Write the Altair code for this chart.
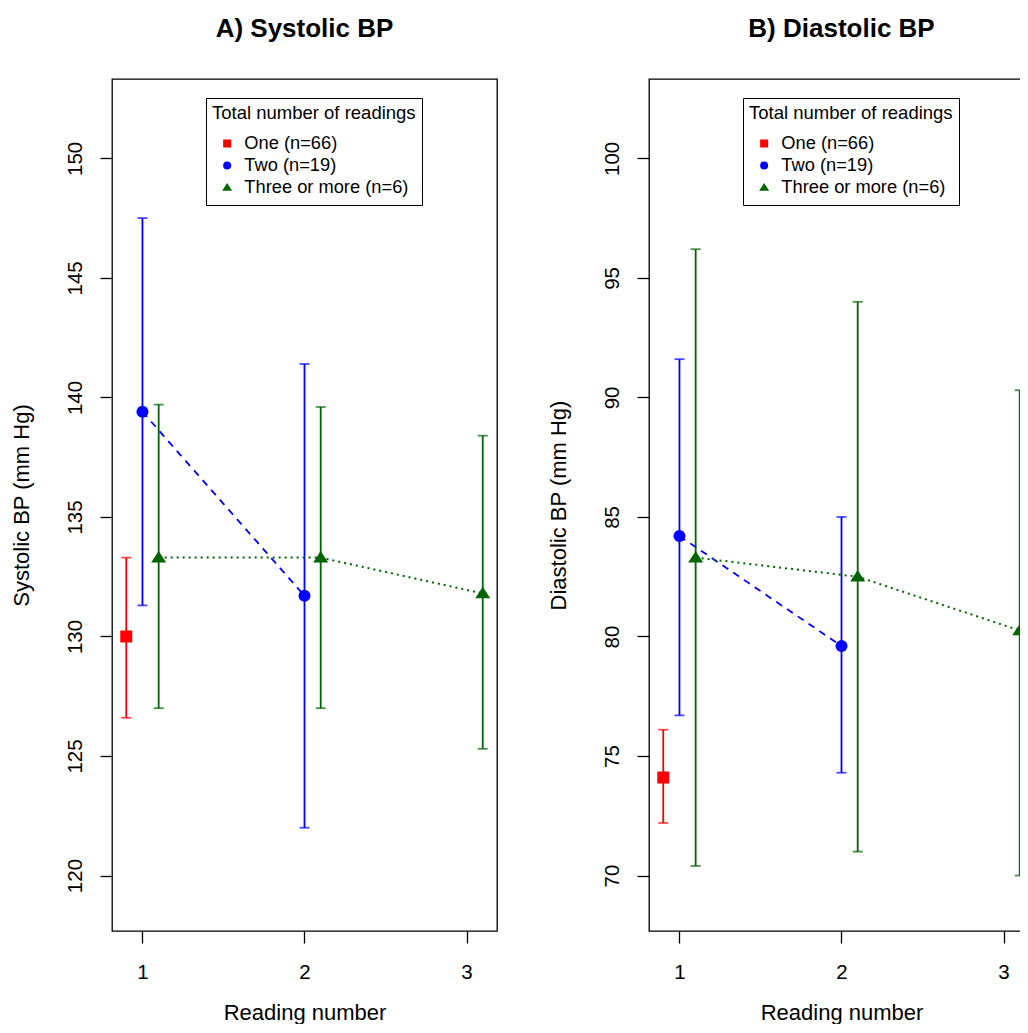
import altair as alt
import pandas as pd

# ---- data ----
group_labels = ["One (n=66)", "Two (n=19)", "Three or more (n=6)"]
group_colors = ["#FF0000", "#0000FF", "#006400"]
reading_pos = [[0.9], [1.0, 2.0], [1.1, 2.1, 3.1]]

sys_mean = [[130.0], [139.4, 131.7], [133.3, 133.3, 131.8]]
sys_lo = [[126.6], [131.3, 122.0], [127.0, 127.0, 125.3]]
sys_hi = [[133.3], [147.5, 141.4], [139.7, 139.6, 138.4]]

dia_mean = [[74.1], [84.2, 79.6], [83.3, 82.5, 80.25]]
dia_lo = [[72.2], [76.7, 74.3], [70.4, 71.0, 70.0]]
dia_hi = [[76.1], [91.6, 85.0], [96.2, 94.0, 90.3]]

x_ticks = [1, 2, 3]
sys_ticks = [120, 125, 130, 135, 140, 145, 150]
dia_ticks = [70, 75, 80, 85, 90, 95, 100]
x_domain = [0.812, 3.188]
sys_domain = [117.68, 153.32]
dia_domain = [67.68, 103.32]

FONT = "Liberation Sans"
TRI = "M0,-1.1L1.25,0.8L-1.25,0.8Z"
W, H = 385, 852


def make_df(means, los, his):
    rows = []
    for g, xs, ms, ls, hs in zip(group_labels, reading_pos, means, los, his):
        for x, m, l, h in zip(xs, ms, ls, hs):
            rows.append(dict(group=g, x=x, mean=m, lo=l, hi=h))
    return pd.DataFrame(rows)


def panel(df, title, ytitle, ydomain, yticks):
    xenc = alt.X(
        "x:Q",
        scale=alt.Scale(domain=x_domain, nice=False, zero=False),
        axis=alt.Axis(values=x_ticks, format="d", title="Reading number",
                      labelPadding=19, titleY=88, titleBaseline="alphabetic"),
    )
    yscale = alt.Scale(domain=ydomain, nice=False, zero=False)
    yaxis = alt.Axis(values=yticks, title=ytitle, labelAngle=-90,
                     labelAlign="center", labelBaseline="bottom", labelPadding=15,
                     titleAngle=-90, titleX=-91, titleY=H / 2,
                     titleAlign="center", titleBaseline="middle")
    cscale = alt.Scale(domain=group_labels, range=group_colors)
    # line colours use the same mapping, listed in reverse so their (hidden)
    # legend does not merge with the visible one
    lscale = alt.Scale(domain=group_labels[::-1], range=group_colors[::-1])
    stroke_enc = alt.Stroke("group:N", scale=lscale, legend=None)
    fill_enc = alt.Fill("group:N", scale=lscale, legend=None)
    leg = alt.Legend(
        title="Total number of readings", orient="none", legendX=94, legendY=19,
        strokeColor="black", fillColor="white", padding=6,
        titleFontSize=18.5, labelFontSize=18.3, titleFontWeight="normal",
        titleFont=FONT, labelFont=FONT, titleColor="black", labelColor="black",
        titleLimit=400, labelLimit=400, symbolSize=64, symbolOffset=6,
        labelOffset=8, rowPadding=0, clipHeight=22, titlePadding=10,
        symbolStrokeWidth=0,
    )
    base = alt.Chart(df)
    bars = base.mark_rule(strokeWidth=1.8).encode(
        x=xenc, y=alt.Y("lo:Q", scale=yscale, axis=yaxis), y2="hi:Q",
        stroke=stroke_enc)
    cap_lo = base.mark_tick(orient="horizontal", size=10, thickness=1.8).encode(
        x="x:Q", y="lo:Q", fill=fill_enc)
    cap_hi = base.mark_tick(orient="horizontal", size=10, thickness=1.8).encode(
        x="x:Q", y="hi:Q", fill=fill_enc)
    line_two = base.transform_filter(alt.datum.group == group_labels[1]).mark_line(
        strokeWidth=1.8, strokeDash=[7, 6]).encode(
        x="x:Q", y="mean:Q", order="x:Q", stroke=stroke_enc)
    line_three = base.transform_filter(alt.datum.group == group_labels[2]).mark_line(
        strokeWidth=2, strokeDash=[2, 4]).encode(
        x="x:Q", y="mean:Q", order="x:Q", stroke=stroke_enc)
    pts = base.mark_point(filled=True, size=144, opacity=1).encode(
        x="x:Q", y="mean:Q",
        color=alt.Color("group:N", scale=cscale, legend=leg),
        shape=alt.Shape("group:N",
                        scale=alt.Scale(domain=group_labels,
                                        range=["square", "circle", TRI]),
                        legend=leg),
    )
    return alt.layer(bars, cap_lo, cap_hi, line_two, line_three, pts).properties(
        width=W, height=H, title=alt.TitleParams(title, offset=37))


left = panel(make_df(sys_mean, sys_lo, sys_hi), "A) Systolic BP",
             "Systolic BP (mm Hg)", sys_domain, sys_ticks)
right = panel(make_df(dia_mean, dia_lo, dia_hi), "B) Diastolic BP",
              "Diastolic BP (mm Hg)", dia_domain, dia_ticks)

chart = (
    alt.hconcat(left, right, spacing=48)
    .resolve_scale(y="independent", color="independent", shape="independent",
                   stroke="independent", fill="independent")
    .resolve_legend(color="independent", shape="independent")
    .properties(padding={"left": 1, "top": 7, "right": -15, "bottom": 0})
    .configure_view(stroke="black", strokeWidth=1.3)
    .configure_axis(grid=False, domain=False, tickColor="black", tickSize=12,
                    tickWidth=1.3, labelColor="black", titleColor="black",
                    labelFont=FONT, titleFont=FONT, labelFontSize=20.5,
                    titleFontSize=22, titleFontWeight="normal")
    .configure_title(font=FONT, fontSize=26, fontWeight="bold", anchor="middle",
                     frame="group", color="black")
)

chart.save("out.html", embed_options={"renderer": "svg", "actions": False})
